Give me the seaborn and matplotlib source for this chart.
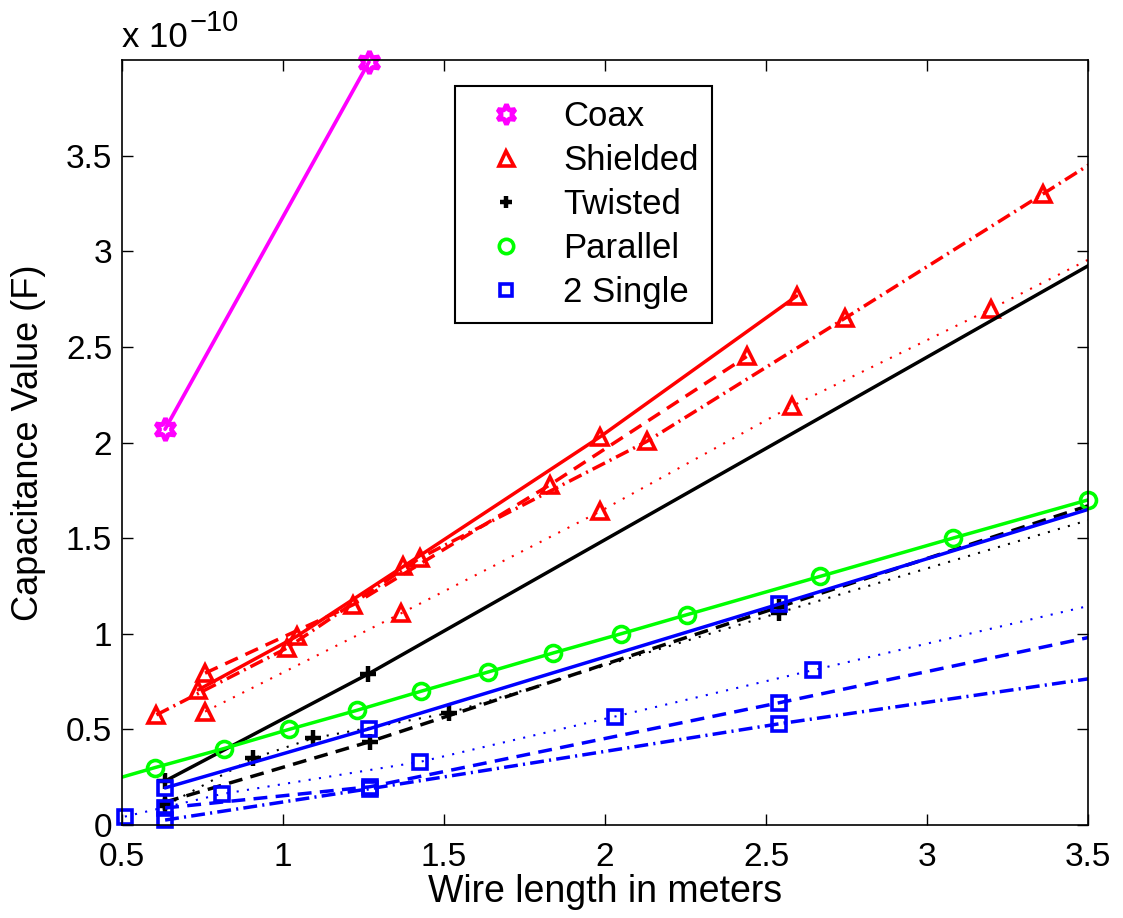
import numpy as np
import pandas as pd
import matplotlib.pyplot as plt
from matplotlib.lines import Line2D
import seaborn as sns

# wire length (m) vs capacitance (units of 1e-10 F)

# Coax
coax_x = [0.634, 1.267]
coax_y = [2.07, 3.99]

# Shielded (four runs)
sh_solid_x = [0.737, 1.042, 1.374, 1.985, 2.595]
sh_solid_y = [0.707, 0.986, 1.352, 2.03, 2.766]
sh_dash_x = [0.758, 1.218, 1.83, 2.44]
sh_dash_y = [0.794, 1.152, 1.78, 2.45]
sh_dashdot_x = [0.607, 1.011, 1.425, 2.13, 2.745, 3.36, 3.97]
sh_dashdot_y = [0.576, 0.924, 1.396, 2.006, 2.65, 3.30, 3.95]
sh_dot_x = [0.758, 1.368, 1.985, 2.58, 3.2, 3.81]
sh_dot_y = [0.593, 1.108, 1.64, 2.19, 2.70, 3.22]

# Twisted
tw_solid_x = [0.634, 1.265, 3.81]
tw_solid_y = [0.23, 0.79, 3.22]
tw_dash_x = [0.634, 1.27, 2.54, 3.81]
tw_dash_y = [0.12, 0.436, 1.14, 1.84]
tw_dot_x = [0.634, 0.908, 1.094, 1.514, 2.54, 3.81]
tw_dot_y = [0.10, 0.349, 0.454, 0.585, 1.11, 1.75]

# Parallel
par_x = [0.397, 0.602, 0.817, 1.019, 1.23, 1.43, 1.637, 1.84, 2.05, 2.255, 2.668, 3.08, 3.5]
par_y = [0.2, 0.3, 0.4, 0.5, 0.6, 0.7, 0.8, 0.9, 1.0, 1.1, 1.3, 1.5, 1.7]

# 2 Single
sg_solid_x = [0.634, 1.267, 2.54, 3.81]
sg_solid_y = [0.194, 0.503, 1.155, 1.81]
sg_dash_x = [0.634, 1.27, 2.54, 3.81]
sg_dash_y = [0.089, 0.20, 0.639, 1.09]
sg_dashdot_x = [0.634, 1.27, 2.54, 3.81]
sg_dashdot_y = [0.026, 0.19, 0.529, 0.84]
sg_dot_x = [0.509, 0.81, 1.425, 2.03, 2.647, 3.87]
sg_dot_y = [0.044, 0.162, 0.33, 0.567, 0.81, 1.29]

legend_labels = ['Coax', 'Shielded', 'Twisted', 'Parallel', '2 Single']

MAG = '#ff00ff'
RED = '#ff0000'
BLK = '#000000'
GRN = '#00ff00'
BLU = '#0000ff'

HEX = (6, 1, 0)
DASH = (0, (4.0, 2.4))
DASHDOT = (0, (4.0, 1.5, 0.6, 1.5))
DOT = (0, (1.0, 4.0))

# marker look per shape: size, edge width
MK = {HEX: (16, 3.4), '^': (12, 2.6), '+': (11, 3.2), 'o': (11.5, 2.6), 's': (9.5, 2.6)}

# name, x, y, color, linestyle, linewidth, marker
series = [
    ('coax', coax_x, coax_y, MAG, '-', 2.7, HEX),
    ('sh1', sh_solid_x, sh_solid_y, RED, '-', 2.5, '^'),
    ('sh2', sh_dash_x, sh_dash_y, RED, DASH, 2.5, '^'),
    ('sh3', sh_dashdot_x, sh_dashdot_y, RED, DASHDOT, 2.5, '^'),
    ('sh4', sh_dot_x, sh_dot_y, RED, DOT, 1.5, '^'),
    ('tw1', tw_solid_x, tw_solid_y, BLK, '-', 2.5, '+'),
    ('tw2', tw_dash_x, tw_dash_y, BLK, DASH, 2.5, '+'),
    ('tw3', tw_dot_x, tw_dot_y, BLK, DOT, 1.5, '+'),
    ('par', par_x, par_y, GRN, '-', 2.5, 'o'),
    ('sg1', sg_solid_x, sg_solid_y, BLU, '-', 2.5, 's'),
    ('sg2', sg_dash_x, sg_dash_y, BLU, DASH, 2.5, 's'),
    ('sg3', sg_dashdot_x, sg_dashdot_y, BLU, DASHDOT, 2.5, 's'),
    ('sg4', sg_dot_x, sg_dot_y, BLU, DOT, 1.5, 's'),
]

sns.set_theme(style="ticks")
plt.rcParams['font.family'] = ['Liberation Sans', 'DejaVu Sans']
plt.rcParams['xtick.direction'] = 'in'
plt.rcParams['ytick.direction'] = 'in'
plt.rcParams['mathtext.default'] = 'regular'
for key in ['text.color', 'axes.labelcolor', 'xtick.color', 'ytick.color']:
    plt.rcParams[key] = 'black'

fig = plt.figure(figsize=(11.23, 9.18), dpi=100)
ax = fig.add_axes([0.1086, 0.1013, 0.8603, 0.8333])

XMIN, XMAX = 0.5, 3.5

for name, xs, ys, col, ls, lw, mk in series:
    df = pd.DataFrame({'x': xs, 'y': ys})
    sns.lineplot(data=df, x='x', y='y', ax=ax, color=col, linestyle=ls,
                 linewidth=lw, estimator=None, sort=False)
    # markers only where the point is inside the x range, drawn unclipped
    inside = df[(df['x'] >= XMIN - 1e-9) & (df['x'] <= XMAX + 1e-9)]
    ms, mew = MK[mk]
    sns.lineplot(data=inside, x='x', y='y', ax=ax, color=col, linestyle='none',
                 marker=mk, markersize=ms, markerfacecolor='none',
                 markeredgecolor=col, markeredgewidth=mew,
                 estimator=None, sort=False, clip_on=False)

ax.set_xlim(XMIN, XMAX)
ax.set_ylim(0, 4)
ax.set_xticks(np.arange(0.5, 3.51, 0.5))
ax.set_xticklabels(['0.5', '1', '1.5', '2', '2.5', '3', '3.5'])
ax.set_yticks(np.arange(0, 3.51, 0.5))
ax.set_yticklabels(['0', '0.5', '1', '1.5', '2', '2.5', '3', '3.5'])
ax.tick_params(labelsize=24, length=8, width=1, top=True, right=True)
ax.tick_params(axis='x', pad=12)
ax.tick_params(axis='y', pad=7)
for sp in ax.spines.values():
    sp.set_visible(True)
    sp.set_linewidth(1.2)
    sp.set_color('black')

ax.set_xlabel('Wire length in meters', fontsize=27, labelpad=1)
ax.set_ylabel('Capacitance Value (F)', fontsize=26, labelpad=14)

# exponent label in the top-left corner
ax.text(0, 1.008, 'x 10', transform=ax.transAxes, fontsize=25,
        ha='left', va='bottom')
ax.text(0.070, 1.030, '\u221210', transform=ax.transAxes, fontsize=21,
        ha='left', va='bottom')

handles = []
for col, mk in [(MAG, HEX), (RED, '^'), (BLK, '+'), (GRN, 'o'), (BLU, 's')]:
    ms, mew = MK[mk]
    if mk == '+':
        ms, mew = 9, 3.2
    else:
        ms = ms * 0.9
    handles.append(Line2D([], [], color=col, linestyle='none', marker=mk,
                          markersize=ms, markerfacecolor='none',
                          markeredgecolor=col, markeredgewidth=mew))
leg = ax.legend(handles, legend_labels, loc='upper left',
                bbox_to_anchor=(0.345, 0.966), fontsize=25, frameon=True,
                fancybox=False, edgecolor='black', framealpha=1,
                handlelength=2.1, handletextpad=0.6, borderpad=0.4,
                labelspacing=0.32, borderaxespad=0)
leg.get_frame().set_linewidth(1.5)

fig.savefig('out.png', dpi=100)
